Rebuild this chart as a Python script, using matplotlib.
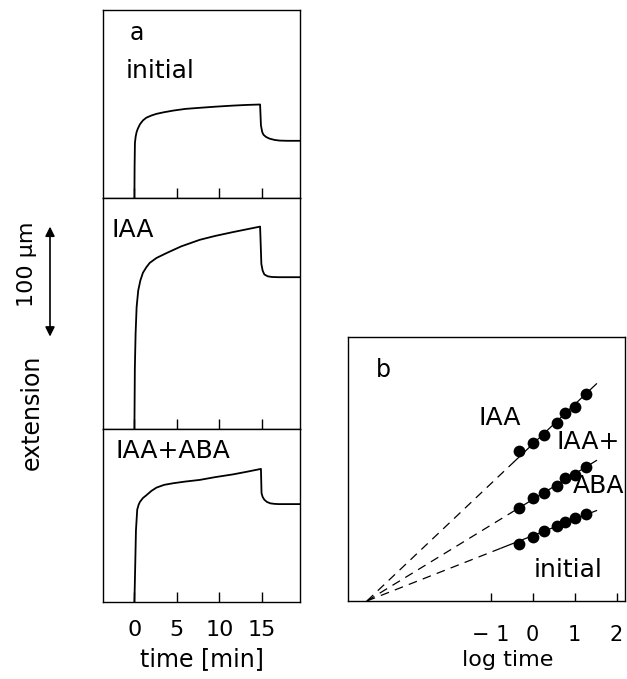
import numpy as np
import matplotlib
matplotlib.use("Agg")
import matplotlib.pyplot as plt
import matplotlib.transforms as mtrans

plt.rcParams['font.family'] = ['DejaVu Sans']

# ---------------- data ----------------
# panel a: extension (um) vs time (min)
t_initial = [0, 0.02, 0.06, 0.15, 0.26, 0.4, 0.65, 1.0, 1.4, 2.0, 2.6, 3.5, 4.6, 6.0, 7.7, 9.5, 11.6, 13.2, 14.8,
             14.9, 15.05, 15.2, 15.5, 15.9, 16.5, 17.1, 18.0, 19.5]
y_initial = [0, 28, 50, 56, 60, 63, 67, 70.5, 73, 75, 76.5, 78, 79.5, 81, 82, 83, 84, 84.6, 85,
             66, 60, 57.5, 55.5, 54, 52.8, 52.2, 52, 52]

t_iaa = [0, 0.05, 0.14, 0.26, 0.45, 0.7, 1.0, 1.4, 1.8, 2.6, 3.8, 5.5, 7.7, 9.5, 11.6, 13.2, 14.8,
         14.95, 15.1, 15.3, 15.7, 16.2, 17.0, 19.5]
y_iaa = [0, 55, 87, 111, 126, 135, 142, 147, 151, 155.5, 160, 166, 172, 175.5, 179, 181.5, 184,
         150, 144, 140.5, 138.8, 138.2, 138, 138]

t_iaa_aba = [0, 0.1, 0.18, 0.33, 0.5, 0.65, 1.0, 1.4, 2.0, 2.6, 3.5, 4.6, 6.0, 7.7, 9.5, 11.6, 13.3, 14.9,
             14.97, 15.1, 15.3, 15.6, 16.0, 16.5, 17.0, 19.5]
y_iaa_aba = [0, 35, 65, 84, 88.5, 91, 94.5, 97, 101, 104, 106.5, 108, 109.5, 111, 113.5, 116, 118.5, 121,
             99, 95.5, 93, 91, 89.7, 89.2, 89, 89]

time_ticks = [0, 5, 10, 15]

# panel b: extension (arbitrary) vs log time
log_t = [-0.32, 0.0, 0.28, 0.57, 0.77, 1.0, 1.27]
b_iaa = [15.0, 15.8, 16.6, 17.8, 18.8, 19.4, 20.7]
b_iaa_aba = [9.3, 10.3, 10.8, 11.5, 12.3, 12.6, 13.4]
b_initial = [5.7, 6.4, 7.0, 7.5, 7.9, 8.3, 8.7]
log_x0 = -3.95          # common extrapolated intercept
log_ticks = [-1, 0, 1, 2]
log_ticklabels = ['\u2212 1', '0', '1', '2']

# ---------------- figure ----------------
W, H = 627, 679
fig = plt.figure(figsize=(W / 100, H / 100), dpi=100)


def rect(x0, y0, x1, y1):
    return [x0 / W, 1 - y1 / H, (x1 - x0) / W, (y1 - y0) / H]


def fp(x, y):
    return x / W, 1 - y / H


LW = 1.0
scale = 1.1  # px per um

ax1 = fig.add_axes(rect(103, 10, 300, 198))
ax2 = fig.add_axes(rect(103, 198, 300, 429))
ax3 = fig.add_axes(rect(103, 429, 300, 602))

for ax, t, y, h in [(ax1, t_initial, y_initial, 188),
                    (ax2, t_iaa, y_iaa, 231),
                    (ax3, t_iaa_aba, y_iaa_aba, 173)]:
    ax.plot(t, y, color='black', lw=1.3, solid_joinstyle='round')
    ax.set_xlim(-3.7, 19.5)
    ax.set_ylim(0, h / scale)
    ax.set_yticks([])
    ax.set_xticks(time_ticks)
    ax.tick_params(axis='x', direction='in', length=7, width=LW, labelsize=16,
                   pad=13)
    for s in ax.spines.values():
        s.set_linewidth(LW)
    if ax is not ax3:
        ax.tick_params(axis='x', labelbottom=False)

ax1.text(0.171, 0.878, 'a', transform=ax1.transAxes, ha='center', va='center', fontsize=17)
ax1.text(0.289, 0.673, 'initial', transform=ax1.transAxes, ha='center', va='center', fontsize=18)
ax2.text(0.152, 0.861, 'IAA', transform=ax2.transAxes, ha='center', va='center', fontsize=18)
ax3.text(0.353, 0.873, 'IAA+ABA', transform=ax3.transAxes, ha='center', va='center', fontsize=18)

fig.text(*fp(202, 659), 'time [min]', ha='center', va='center', fontsize=17)

# scale arrow (100 um) tied to ax2 data scale
tr = mtrans.blended_transform_factory(fig.transFigure, ax2.transData)
ax2.annotate('', xy=(50 / W, 184), xytext=(50 / W, 84), xycoords=tr, textcoords=tr,
             arrowprops=dict(arrowstyle='<|-|>', color='black', lw=1.2,
                             mutation_scale=14, shrinkA=0, shrinkB=0),
             annotation_clip=False)
fig.text(*fp(27, 264), '100 μm', rotation=90, ha='center', va='center', fontsize=16)
fig.text(*fp(32, 412), 'extension', rotation=90, ha='center', va='center', fontsize=17)

# ---------------- panel b ----------------
axb = fig.add_axes(rect(348, 337, 625, 601))
axb.set_xlim(-4.4, 2.2)
axb.set_ylim(0, 26.4)
axb.set_yticks([])
axb.set_xticks(log_ticks)
axb.set_xticklabels(log_ticklabels)
axb.tick_params(axis='x', direction='in', length=6, width=LW, labelsize=15, pad=17)
for s in axb.spines.values():
    s.set_linewidth(LW)

for ys, solid_start in [(b_iaa, -0.45), (b_iaa_aba, -0.5), (b_initial, -0.75)]:
    x = np.asarray(log_t)
    y = np.asarray(ys)
    slope = np.sum((x - log_x0) * y) / np.sum((x - log_x0) ** 2)
    xd = np.array([log_x0, solid_start])
    xs = np.array([solid_start, 1.52])
    axb.plot(xd, slope * (xd - log_x0), color='black', lw=0.9, dashes=(7, 5))
    axb.plot(xs, slope * (xs - log_x0), color='black', lw=0.9)
    axb.scatter(x, y, s=72, color='black', zorder=3, linewidths=0)

axb.text(0.127, 0.875, 'b', transform=axb.transAxes, ha='center', va='center', fontsize=17)
axb.text(0.549, 0.693, 'IAA', transform=axb.transAxes, ha='center', va='center', fontsize=18)
axb.text(0.866, 0.602, 'IAA+', transform=axb.transAxes, ha='center', va='center', fontsize=18)
axb.text(0.906, 0.436, 'ABA', transform=axb.transAxes, ha='center', va='center', fontsize=18)
axb.text(0.794, 0.117, 'initial', transform=axb.transAxes, ha='center', va='center', fontsize=18)

fig.text(*fp(508, 660), 'log time', ha='center', va='center', fontsize=16)

fig.savefig('out.png', dpi=100)
